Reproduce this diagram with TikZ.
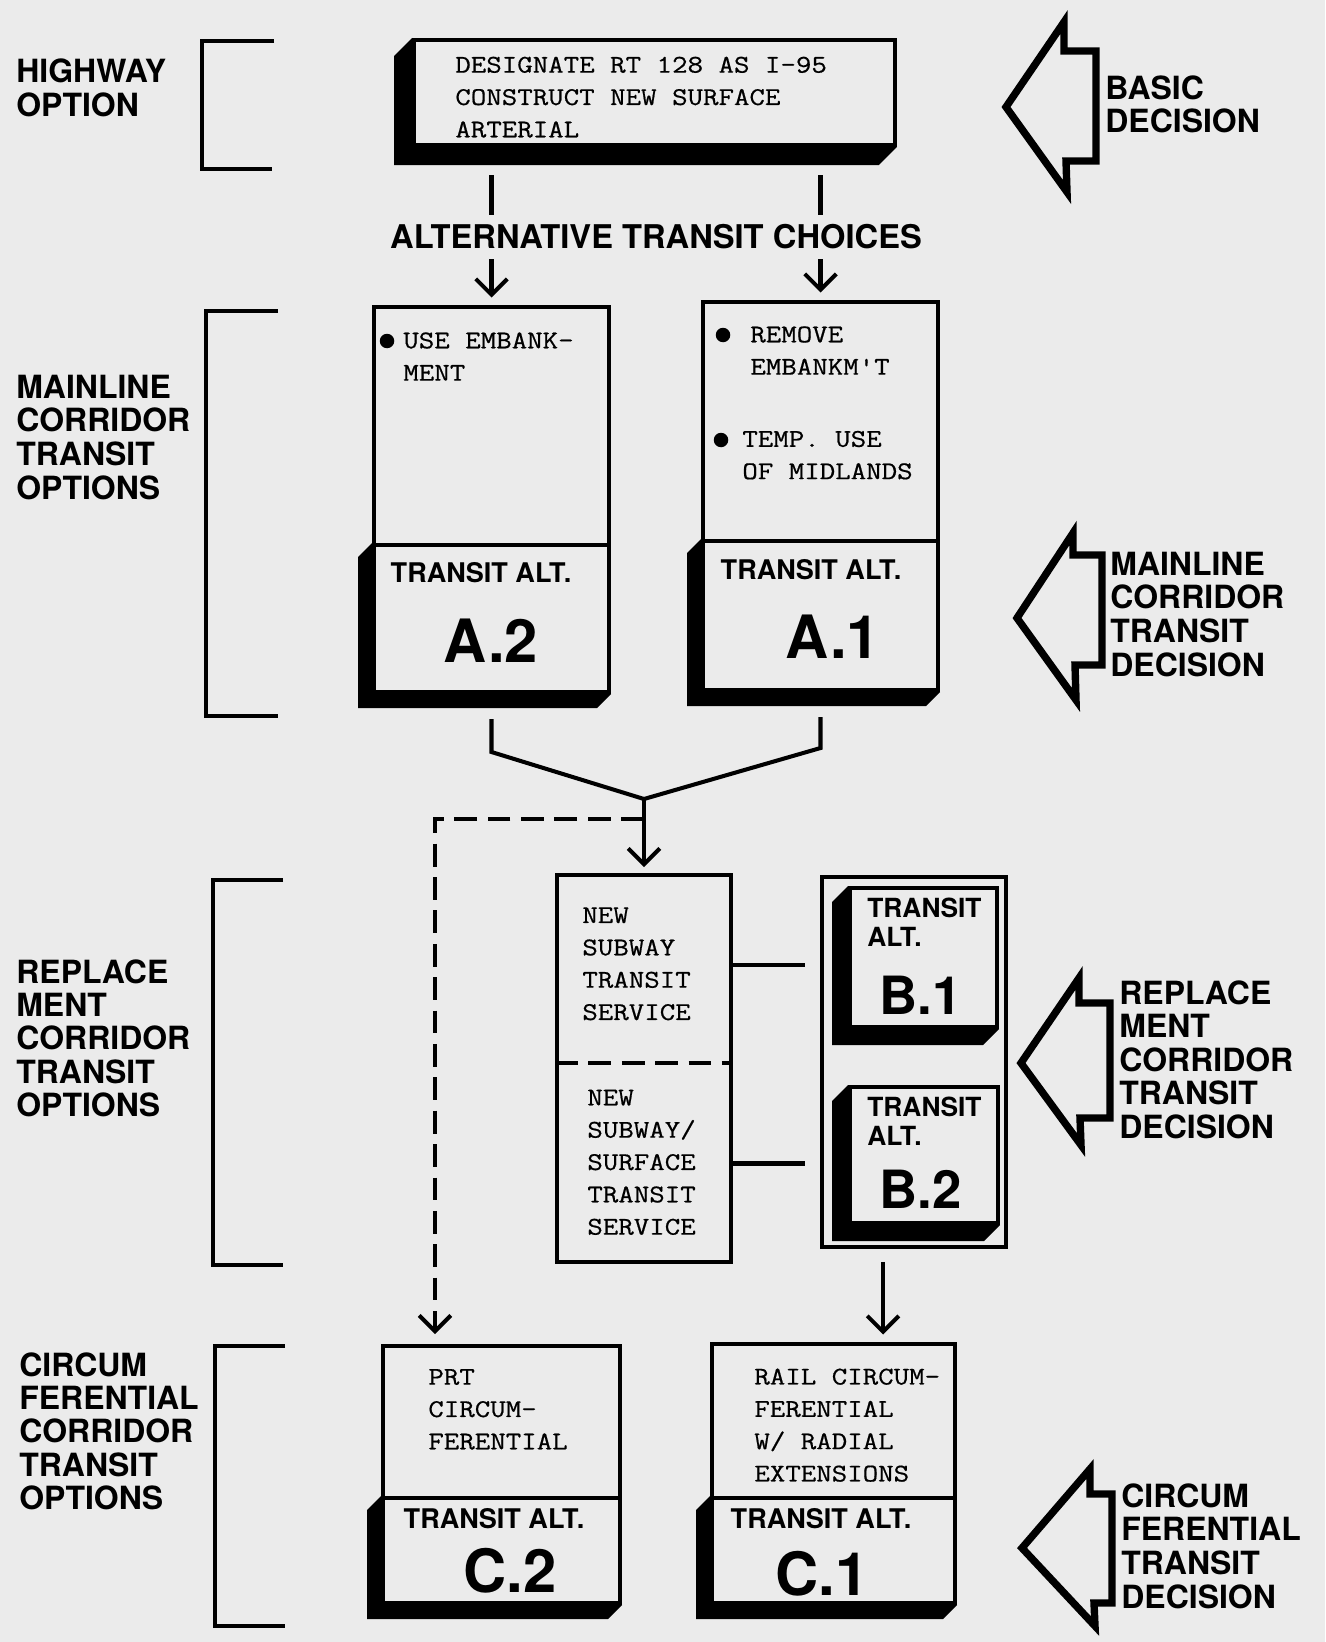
\documentclass[tikz,border=0pt]{standalone}
\usepackage{fontspec}
\setmainfont{TeX Gyre Heros}
\newfontfamily\typewriter[FakeStretch=1.18, FakeBold=0.6]{Latin Modern Mono}
\usetikzlibrary{arrows.meta}
\definecolor{paper}{gray}{0.92}
\newcommand{\boxshadow}[2]{%
  \fill[black] (#1.north west) -- ++(-#2,#2) |- ([shift={(-#2,#2)}]#1.south east)
    -- (#1.south east) -- (#1.south west) -- cycle;}

\begin{document}
\begin{tikzpicture}[x=0.02cm, y=-0.02cm]
        \tikzstyle{every node}=[inner sep=0pt, text=black]
        \tikzstyle{frame}=[rectangle, draw=black, line width=2.3pt]
        \tikzstyle{heading}=[anchor=west, font=\bfseries\fontsize{18.2}{18.7}\selectfont]
        \tikzstyle{memo}=[anchor=west, font=\typewriter\fontsize{14.5}{18.4}\selectfont]
        \tikzstyle{alttag}=[font=\bfseries\fontsize{15.4}{16}\selectfont]
        \tikzstyle{altid}=[font=\bfseries\fontsize{34}{36}\selectfont]
        \tikzstyle{dot}=[circle, fill=black, minimum size=0.29cm]
        \tikzstyle{line}=[line width=2.3pt]
        \tikzstyle{flow}=[line, -{Straight Barb[length=9pt, width=18pt]}]
        \tikzstyle{dashline}=[dash pattern=on 13pt off 6pt]
        \tikzstyle{bracket}=[line width=2.8pt]
        \tikzstyle{decision}=[line width=4.2pt, line join=miter]

        \useasboundingbox (0,0) rectangle (1325,1642);
        \fill[paper] (0,0) rectangle (1325,1642);

        % option groups on the left
        \node[heading] (hwopt) at (16,92.5)   {\begin{tabular}{@{}l@{}} HIGHWAY \\ OPTION \end{tabular}};
        \node[heading] (mlopt) at (16,442)    {\begin{tabular}{@{}l@{}} MAINLINE \\ CORRIDOR \\ TRANSIT \\ OPTIONS \end{tabular}};
        \node[heading] (rpopt) at (16,1043)   {\begin{tabular}{@{}l@{}} REPLACE \\ MENT \\ CORRIDOR \\ TRANSIT \\ OPTIONS \end{tabular}};
        \node[heading] (cfopt) at (19,1436)   {\begin{tabular}{@{}l@{}} CIRCUM \\ FERENTIAL \\ CORRIDOR \\ TRANSIT \\ OPTIONS \end{tabular}};

        \draw[bracket] (274,41) -- (202,41) -- (202,169) -- (272,169);
        \draw[bracket] (278,311) -- (206,311) -- (206,716) -- (278,716);
        \draw[bracket] (283,880) -- (213,880) -- (213,1265) -- (283,1265);
        \draw[bracket] (285,1346) -- (215,1346) -- (215,1626) -- (285,1626);

        % decisions on the right
        \draw[decision] (1006,107) -- (1064,22) -- (1064,51) -- (1096,51) -- (1096,161) -- (1066,161) -- (1067,192) -- cycle;
        \draw[decision] (1017,618) -- (1073,533) -- (1073,555) -- (1102,555) -- (1102,665) -- (1075,665) -- (1076,700) -- cycle;
        \draw[decision] (1021,1063) -- (1079,978) -- (1079,1003) -- (1110,1003) -- (1110,1118) -- (1080,1118) -- (1081,1145) -- cycle;
        \draw[decision] (1022,1548) -- (1090,1469) -- (1090,1494) -- (1112,1494) -- (1112,1603) -- (1094,1603) -- (1095,1626) -- cycle;

        \node[heading] (basic) at (1105,109)    {\begin{tabular}{@{}l@{}} BASIC \\ DECISION \end{tabular}};
        \node[heading] (mldec) at (1110,619)    {\begin{tabular}{@{}l@{}} MAINLINE \\ CORRIDOR \\ TRANSIT \\ DECISION \end{tabular}};
        \node[heading] (rpdec) at (1119,1064.5) {\begin{tabular}{@{}l@{}} REPLACE \\ MENT \\ CORRIDOR \\ TRANSIT \\ DECISION \end{tabular}};
        \node[heading] (cfdec) at (1121,1551)   {\begin{tabular}{@{}l@{}} CIRCUM \\ FERENTIAL \\ TRANSIT \\ DECISION \end{tabular}};

        % highway option
        \node[frame, minimum width=9.62cm, minimum height=2.1cm] (highway) at (654.5,92.5) {};
        \boxshadow{highway}{18}
        \node[memo] (hwtext) at (455,98.5) {\begin{tabular}{@{}l@{}} DESIGNATE RT 128 AS I-95 \\ CONSTRUCT NEW SURFACE \\ ARTERIAL \end{tabular}};

        % mainline corridor
        \node[frame, minimum width=4.7cm, minimum height=4.76cm] (a2info) at (491.5,426) {};
        \node[frame, minimum width=4.7cm, minimum height=2.94cm] (a2) at (491.5,618.5) {};
        \boxshadow{a2}{14}
        \node[frame, minimum width=4.7cm, minimum height=4.78cm] (a1info) at (820.5,421.5) {};
        \node[frame, minimum width=4.7cm, minimum height=2.98cm] (a1) at (820.5,615.5) {};
        \boxshadow{a1}{14}

        \node[dot] (a2dot) at (387,341) {};
        \node[memo] (a2text) at (403,358) {\begin{tabular}{@{}l@{}} USE EMBANK- \\ MENT \end{tabular}};
        \node[dot] (a1dot) at (723,335) {};
        \node[memo] (a1text) at (750,352) {\begin{tabular}{@{}l@{}} REMOVE \\ EMBANKM'T \end{tabular}};
        \node[dot] (a1dotb) at (721,440) {};
        \node[memo] (a1textb) at (742,456.5) {\begin{tabular}{@{}l@{}} TEMP. USE \\ OF MIDLANDS \end{tabular}};

        \node[alttag] (a2tag) at (481,573) {TRANSIT ALT.};
        \node[altid]  (a2id)  at (491,641) {A.2};
        \node[alttag] (a1tag) at (811,570) {TRANSIT ALT.};
        \node[altid]  (a1id)  at (833,637) {A.1};

        \draw[flow, shorten <=0.56cm, shorten >=0.15cm] (a2info.north |- highway.south) -- (a2info.north);
        \draw[flow, shorten <=0.56cm, shorten >=0.15cm] (a1info.north |- highway.south) -- (a1info.north);
        \node[font=\bfseries\fontsize{18.6}{20}\selectfont, fill=paper, inner xsep=4pt, inner ysep=5.5pt] (choices) at (656,237) {ALTERNATIVE TRANSIT CHOICES};

        % replacement corridor
        \node[frame, minimum width=3.48cm, minimum height=7.74cm] (bsvc) at (644,1068.5) {};
        \coordinate (bsplit) at (644,1063);
        \draw[line, dashline] (bsvc.west |- bsplit) -- (bsvc.east |- bsplit);
        \node[memo] (subway)  at (582,965)    {\begin{tabular}{@{}l@{}} NEW \\ SUBWAY \\ TRANSIT \\ SERVICE \end{tabular}};
        \node[memo] (surface) at (587,1163.5) {\begin{tabular}{@{}l@{}} NEW \\ SUBWAY/ \\ SURFACE \\ TRANSIT \\ SERVICE \end{tabular}};

        \node[frame, minimum width=3.68cm, minimum height=7.4cm] (bgroup) at (914,1062) {};
        \node[frame, minimum width=2.94cm, minimum height=2.78cm] (b1) at (923.5,957.5) {};
        \boxshadow{b1}{16}
        \node[frame, minimum width=2.96cm, minimum height=2.72cm] (b2) at (924,1155) {};
        \boxshadow{b2}{16}
        \node[heading, font=\bfseries\fontsize{15}{16.4}\selectfont] (b1tag) at (867,926)  {\begin{tabular}{@{}l@{}} TRANSIT \\ ALT. \end{tabular}};
        \node[altid, anchor=west, font=\bfseries\fontsize{30}{32}\selectfont] (b1id) at (879,995)  {B.1};
        \node[heading, font=\bfseries\fontsize{15}{16.4}\selectfont] (b2tag) at (867,1125) {\begin{tabular}{@{}l@{}} TRANSIT \\ ALT. \end{tabular}};
        \node[altid, anchor=west, font=\bfseries\fontsize{30}{32}\selectfont] (b2id) at (879,1189) {B.2};

        \draw[line, shorten >=0.3cm] (subway.east -| bsvc.east) -- (subway.east -| bgroup.west);
        \draw[line, shorten >=0.3cm] (surface.east -| bsvc.east) -- (surface.east -| bgroup.west);

        % circumferential corridor
        \node[frame, minimum width=4.74cm, minimum height=3.04cm] (c2info) at (501.5,1422) {};
        \node[frame, minimum width=4.74cm, minimum height=2.1cm] (c2) at (501.5,1550.5) {};
        \boxshadow{c2}{14}
        \node[frame, minimum width=4.86cm, minimum height=3.08cm] (c1info) at (833.5,1421) {};
        \node[frame, minimum width=4.86cm, minimum height=2.1cm] (c1) at (833.5,1550.5) {};
        \boxshadow{c1}{14}

        \node[memo] (c2text) at (428,1410.5) {\begin{tabular}{@{}l@{}} PRT \\ CIRCUM- \\ FERENTIAL \end{tabular}};
        \node[memo] (c1text) at (754,1426.5) {\begin{tabular}{@{}l@{}} RAIL CIRCUM- \\ FERENTIAL \\ W/ RADIAL \\ EXTENSIONS \end{tabular}};
        \node[alttag] (c2tag) at (494,1519) {TRANSIT ALT.};
        \node[altid]  (c2id)  at (510,1571) {C.2};
        \node[alttag] (c1tag) at (821,1519) {TRANSIT ALT.};
        \node[altid]  (c1id)  at (822,1574) {C.1};

        % flow between the stages
        \coordinate (merge) at (644,799);
        \coordinate (split) at (644,819);
        \coordinate (dashturn) at (435,819);
        \draw[line, shorten <=0.5cm] (a2.south) -- ++(0,58) -- (merge);
        \draw[line, shorten <=0.5cm] (a1.south) -- ++(0,56) -- (merge);
        \draw[flow, shorten >=0.12cm] (merge) -- (bsvc.north);
        \draw[flow, dashline, shorten >=0.2cm] (split) -- (dashturn) -- (dashturn |- c2info.north);
        \draw[flow, shorten <=0.26cm, shorten >=0.15cm] ([xshift=-0.62cm]bgroup.south) -- ([xshift=-0.62cm]bgroup.south |- c1info.north);
\end{tikzpicture}
\end{document}
